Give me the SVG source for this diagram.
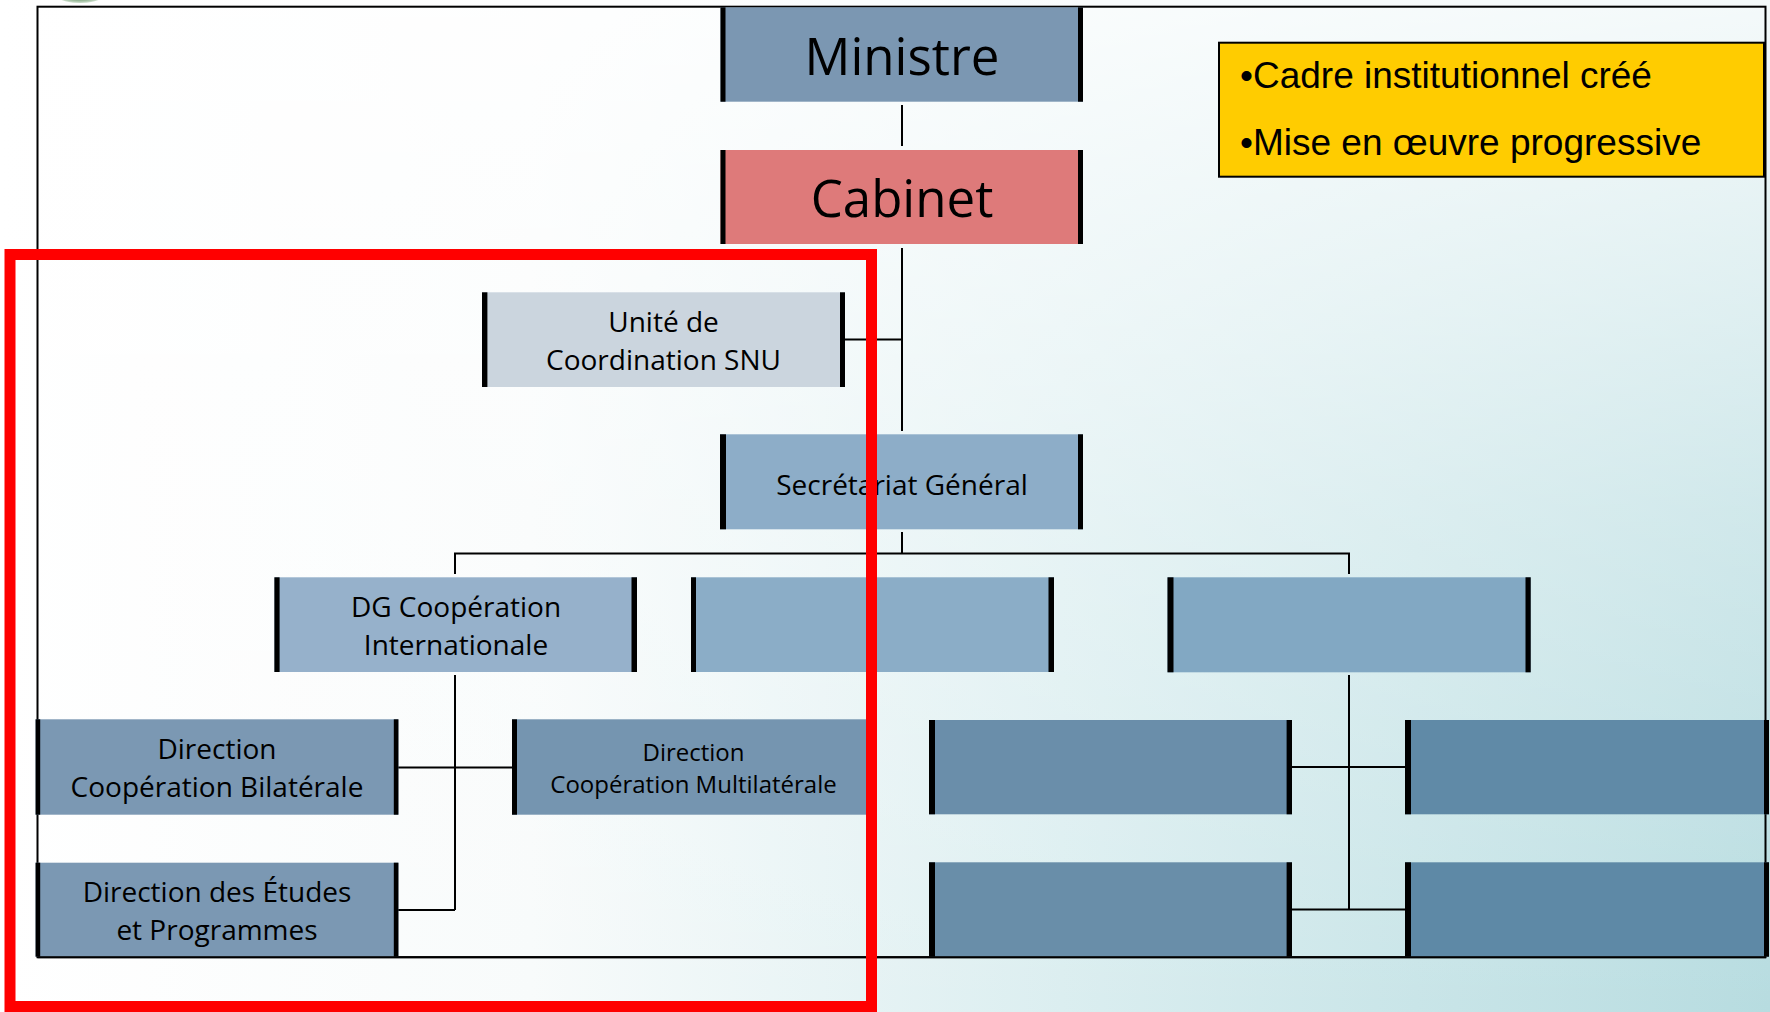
<svg xmlns="http://www.w3.org/2000/svg" width="1770" height="1012" viewBox="0 0 1770 1012">
<defs>
<linearGradient id="bgh" x1="0" y1="0" x2="1" y2="0">
<stop offset="0" stop-color="#ffffff"/>
<stop offset="0.3" stop-color="#f8fbfb"/>
<stop offset="0.6" stop-color="#dbeef0"/>
<stop offset="1" stop-color="#b7dce0"/>
</linearGradient>
<linearGradient id="bgv" x1="0" y1="0" x2="0" y2="1">
<stop offset="0" stop-color="#ffffff" stop-opacity="0.85"/>
<stop offset="0.5" stop-color="#ffffff" stop-opacity="0.35"/>
<stop offset="1" stop-color="#ffffff" stop-opacity="0"/>
</linearGradient>
<radialGradient id="logo" cx="0.5" cy="0.5" r="0.5">
<stop offset="0" stop-color="#4f7f4f"/>
<stop offset="0.8" stop-color="#6f9a6f"/>
<stop offset="1" stop-color="#cfe0cf"/>
</radialGradient>
<style>
.fr{fill:none;stroke:#000;stroke-width:2}
.bar{fill:#000}
.c{fill:none;stroke:#000;stroke-width:2}
.t{font-family:"Open Sans","Noto Sans",sans-serif;fill:#000;text-anchor:middle}
.big{font-size:51px}
.m{font-size:28px}
.s{font-size:24px}
.y{font-family:"Liberation Sans",Arial,sans-serif;font-size:37px;fill:#000}
</style>
</defs>
<rect x="0" y="0" width="1770" height="1012" fill="url(#bgh)"/>
<rect x="0" y="0" width="1770" height="1012" fill="url(#bgv)"/>
<ellipse cx="80" cy="-18" rx="36" ry="21" fill="url(#logo)"/>
<rect class="fr" x="37.5" y="6.7" width="1728" height="950.5"/>

<g id="connectors">
<line class="c" x1="902" y1="105" x2="902" y2="146"/>
<line class="c" x1="902" y1="248" x2="902" y2="431"/>
<line class="c" x1="845" y1="339.5" x2="902" y2="339.5"/>
<line class="c" x1="902" y1="532" x2="902" y2="553.5"/>
<polyline class="c" points="455,574 455,553.5 1349,553.5 1349,574"/>
<line class="c" x1="455" y1="675" x2="455" y2="910"/>
<line class="c" x1="398" y1="767.5" x2="512" y2="767.5"/>
<line class="c" x1="398" y1="910" x2="455" y2="910" stroke-width="2.5"/>
<line class="c" x1="1349" y1="675" x2="1349" y2="909.5"/>
<line class="c" x1="1292" y1="767" x2="1405" y2="767"/>
<line class="c" x1="1292" y1="909.5" x2="1405" y2="909.5" stroke-width="2.5"/>
</g>

<g id="ministre">
<rect x="720.5" y="7.3" width="362.5" height="94.4" fill="#7b97b2"/>
<rect class="bar" x="720.5" y="7.3" width="5" height="94.4"/><rect class="bar" x="1078" y="7.3" width="5" height="94.4"/>
<text class="t big" x="902" y="75">Ministre</text>
</g>
<g id="cabinet">
<rect x="720.5" y="150" width="362.5" height="94" fill="#de7a7a"/>
<rect class="bar" x="720.5" y="150" width="5" height="94"/><rect class="bar" x="1078" y="150" width="5" height="94"/>
<text class="t big" x="902" y="217">Cabinet</text>
</g>
<g id="unite">
<rect x="482" y="292.3" width="363" height="94.7" fill="#cbd5de"/>
<rect class="bar" x="482" y="292.3" width="5.4" height="94.7"/><rect class="bar" x="840" y="292.3" width="5" height="94.7"/>
<text class="t m" x="663.5" y="331.7">Unité de</text>
<text class="t m" x="663.5" y="370">Coordination SNU</text>
</g>
<g id="secretariat">
<rect x="720" y="434.3" width="363" height="95" fill="#8dadc8"/>
<rect class="bar" x="720" y="434.3" width="6" height="95"/><rect class="bar" x="1078" y="434.3" width="5" height="95"/>
<text class="t m" x="902" y="495">Secrétariat Général</text>
</g>
<g id="dg">
<rect x="274.4" y="577.3" width="362.6" height="94.7" fill="#96b1cb"/>
<rect class="bar" x="274.4" y="577.3" width="5.2" height="94.7"/><rect class="bar" x="631.5" y="577.3" width="5.5" height="94.7"/>
<text class="t m" x="456" y="616.7">DG Coopération</text>
<text class="t m" x="456" y="655">Internationale</text>
</g>
<g id="box-r3c2">
<rect x="691" y="577.3" width="363" height="94.7" fill="#8badc7"/>
<rect class="bar" x="691" y="577.3" width="5" height="94.7"/><rect class="bar" x="1048.5" y="577.3" width="5.5" height="94.7"/>
</g>
<g id="box-r3c3">
<rect x="1167.5" y="577.3" width="363.2" height="95" fill="#82a8c3"/>
<rect class="bar" x="1167.5" y="577.3" width="6" height="95"/><rect class="bar" x="1525.5" y="577.3" width="5.2" height="95"/>
</g>
<g id="bilaterale">
<rect x="35.6" y="719.3" width="362.8" height="95.4" fill="#7b98b3"/>
<rect class="bar" x="35.6" y="719.3" width="4.6" height="95.4"/><rect class="bar" x="393.8" y="719.3" width="4.6" height="95.4"/>
<text class="t m" x="217" y="759.3">Direction</text>
<text class="t m" x="217" y="796.7">Coopération Bilatérale</text>
</g>
<g id="multilaterale">
<rect x="512" y="719.3" width="363" height="95.4" fill="#7595b0"/>
<rect class="bar" x="512" y="719.3" width="5" height="95.4"/><rect class="bar" x="870" y="719.3" width="5" height="95.4"/>
<text class="t s" x="693.5" y="760.7">Direction</text>
<text class="t s" x="693.5" y="793.3">Coopération Multilatérale</text>
</g>
<g id="box-r4c3">
<rect x="929" y="720" width="363" height="94.3" fill="#6a8eaa"/>
<rect class="bar" x="929" y="720" width="6" height="94.3"/><rect class="bar" x="1286.6" y="720" width="5.4" height="94.3"/>
</g>
<g id="box-r4c4">
<rect x="1405" y="720" width="364" height="94.3" fill="#608aa7"/>
<rect class="bar" x="1405" y="720" width="6" height="94.3"/><rect class="bar" x="1764" y="720" width="5" height="94.3"/>
</g>
<g id="etudes">
<rect x="35.6" y="862.7" width="362.8" height="94" fill="#7b98b3"/>
<rect class="bar" x="35.6" y="862.7" width="4.6" height="94"/><rect class="bar" x="393.8" y="862.7" width="4.6" height="94"/>
<text class="t m" x="217" y="901.7">Direction des Études</text>
<text class="t m" x="217" y="940">et Programmes</text>
</g>
<g id="box-r5c3">
<rect x="929" y="862.3" width="363" height="94.4" fill="#698ea9"/>
<rect class="bar" x="929" y="862.3" width="6" height="94.4"/><rect class="bar" x="1286.6" y="862.3" width="5.4" height="94.4"/>
</g>
<g id="box-r5c4">
<rect x="1405" y="862.3" width="364" height="94.4" fill="#5e89a6"/>
<rect class="bar" x="1405" y="862.3" width="6" height="94.4"/><rect class="bar" x="1764" y="862.3" width="5" height="94.4"/>
</g>
<line x1="37.5" y1="957.2" x2="1766" y2="957.2" stroke="#000" stroke-width="2"/>

<g id="note">
<rect x="1219" y="42.7" width="545" height="134" fill="#ffcc00" stroke="#000" stroke-width="2"/>
<text class="y" x="1240" y="88">•Cadre institutionnel créé</text>
<text class="y" x="1240" y="155">•Mise en œuvre progressive</text>
</g>

<g id="highlight">
<rect x="10" y="254.5" width="861.5" height="752" fill="none" stroke="#ff0000" stroke-width="11"/>
</g>
</svg>
